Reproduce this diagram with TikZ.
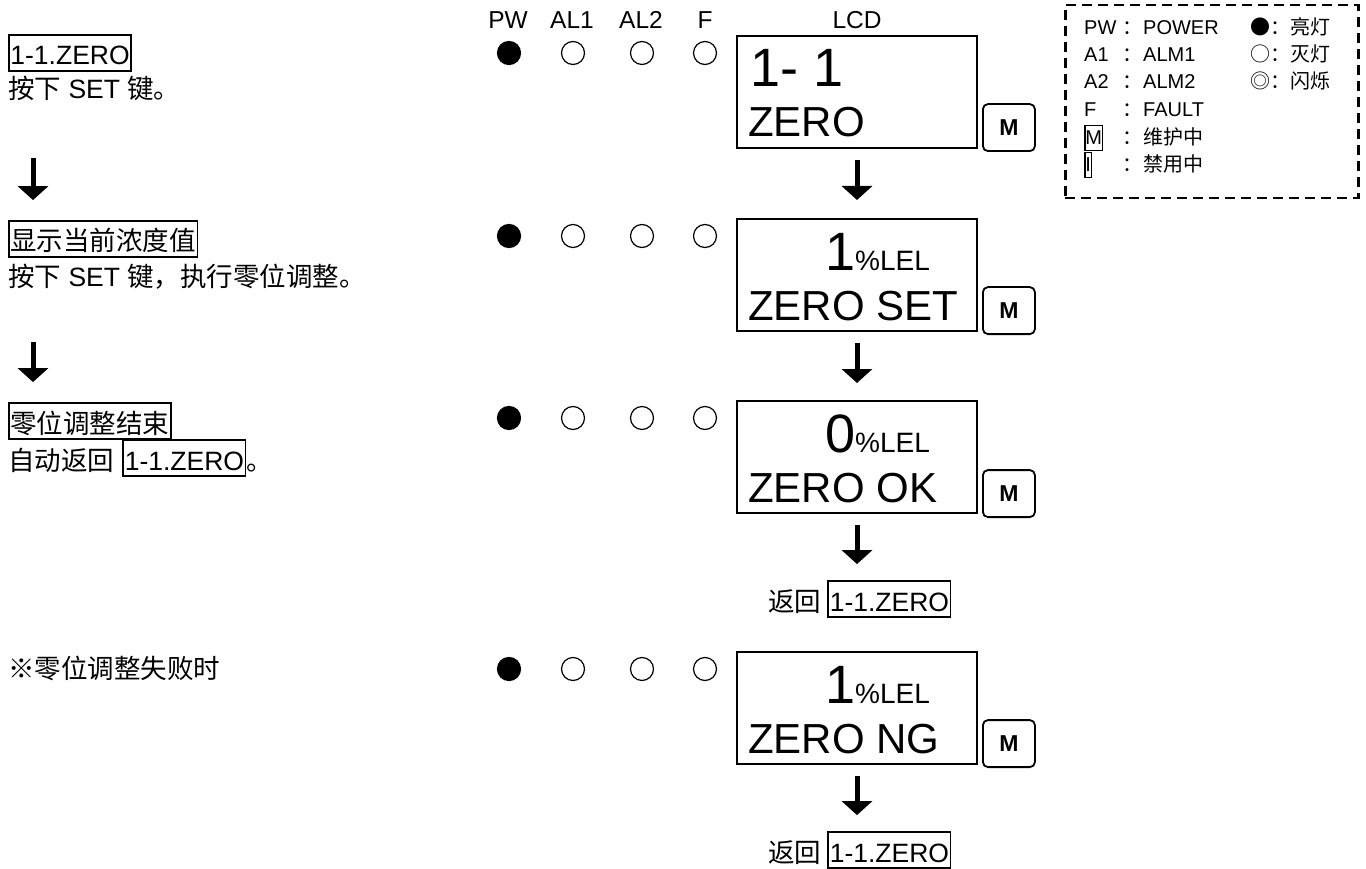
\documentclass[tikz,border=0pt]{standalone}
\usepackage{fontspec}
\setmainfont{Liberation Sans}
\newfontfamily\zh{Noto Sans CJK SC}
\usepackage{tikz}
\usetikzlibrary{arrows.meta,positioning,calc}

\tikzset{
  txt/.style={inner sep=0pt, text height=30pt, text depth=6pt, anchor=base west, font=\fontsize{26.5}{30}\selectfont},
  tag/.style={txt, draw, line width=1.8pt, inner xsep=1.5pt},
  lcdbox/.style={draw, line width=2pt, minimum width=240pt, minimum height=112pt, anchor=north west, inner sep=0pt},
  mkey/.style={draw, line width=1.8pt, rounded corners=5pt, minimum width=52pt, minimum height=47pt, inner sep=0pt, anchor=south west, font=\fontsize{23}{25}\selectfont\bfseries},
  led/.style={circle, draw, line width=1.2pt, minimum size=23pt, inner sep=0pt},
  ledon/.style={led, fill=black},
  flow/.style={line width=5pt, -{Triangle[width=30pt,length=14pt]}},
  bigline/.style={inner sep=0pt, anchor=base west, font=\fontsize{54}{58}\selectfont},
  midline/.style={inner sep=0pt, anchor=base west, font=\fontsize{42}{46}\selectfont},
  hdr/.style={inner sep=0pt, anchor=base, font=\fontsize{24.5}{26}\selectfont},
  leg/.style={inner sep=0pt, anchor=base west, font=\fontsize{20}{22}\selectfont},
  legtag/.style={leg, draw, line width=1.5pt, inner sep=0.5pt, text height=19pt, text depth=5pt},
}
\newcommand{\lel}{{\fontsize{28}{30}\selectfont\%LEL}}

\begin{document}
\begin{tikzpicture}[x=1pt, y=-1pt]
\useasboundingbox (0,0) rectangle (1366,869);

% left column
\node[tag] (l1) at (8,65) {1-1.ZERO};
\node[txt] (l2) at (8,99) {{\zh 按下} SET {\zh 键。}};
\node[tag] (l3) at (8,251) {\zh 显示当前浓度值};
\node[txt] (l4) at (8,287) {{\zh 按下} SET {\zh 键，执行零位调整。}};
\node[tag] (l5) at (8,433) {\zh 零位调整结束};
\node[txt] (l6) at (8,470) {\zh 自动返回};
\node[tag] (l6z) at ([xshift=8pt]l6.base east) {1-1.ZERO};
\node[txt] (l6e) at (l6z.base east) {\zh 。};
\node[txt] (l7) at (8,678) {\zh ※零位调整失败时};

\coordinate (ax) at (33,0);
\draw[flow, shorten <=53pt, shorten >=20pt] (l2.south -| ax) -- (l3.north -| ax);
\draw[flow, shorten <=49pt, shorten >=20pt] (l4.south -| ax) -- (l5.north -| ax);

% lamp headers
\node[hdr] (hpw) at (508,29) {PW};
\node[hdr] (hal1) at (572,29) {AL1};
\node[hdr] (hal2) at (641,29) {AL2};
\node[hdr] (hf) at (705,29) {F};
\node[hdr] (hlcd) at (857,29) {LCD};

% lamps
\foreach \r/\y in {1/53, 2/236, 3/418, 4/669} {
  \node[ledon] (pw\r) at (509,\y) {};
  \node[led] (al1\r) at (573,\y) {};
  \node[led] (al2\r) at (642,\y) {};
  \node[led] (f\r) at (705,\y) {};
}

% LCD panels
\node[lcdbox] (lcd1) at (736,35) {};
\node[bigline] (lcd1a) at (750,87) {1- 1};
\node[midline] (lcd1b) at (748,137) {ZERO};
\node[mkey] (m1) at ([shift={(4pt,-3pt)}]lcd1.south east) {M};

\node[lcdbox] (lcd2) at (736,218) {};
\node[bigline] (lcd2a) at (825,270) {1\lel};
\node[midline] (lcd2b) at (748,320) {ZERO SET};
\node[mkey] (m2) at ([shift={(4pt,-3pt)}]lcd2.south east) {M};

\node[lcdbox] (lcd3) at (736,400) {};
\node[bigline] (lcd3a) at (825,452) {0\lel};
\node[midline] (lcd3b) at (748,502) {ZERO OK};
\node[mkey] (m3) at ([shift={(4pt,-4pt)}]lcd3.south east) {M};

\node[txt] (r3) at (768,611) {\zh 返回};
\node[tag] (r3z) at ([xshift=6pt]r3.base east) {1-1.ZERO};

\node[lcdbox] (lcd4) at (736,651) {};
\node[bigline] (lcd4a) at (825,703) {1\lel};
\node[midline] (lcd4b) at (748,753) {ZERO NG};
\node[mkey] (m4) at ([shift={(4pt,-3pt)}]lcd4.south east) {M};

\node[txt] (r4) at (768,862) {\zh 返回};
\node[tag] (r4z) at ([xshift=6pt]r4.base east) {1-1.ZERO};

\draw[flow, shorten <=11pt, shorten >=18pt] (lcd1) -- (lcd2);
\draw[flow, shorten <=11pt, shorten >=17pt] (lcd2) -- (lcd3);
\draw[flow, shorten <=11pt, shorten >=16pt] (lcd3.south) -- (lcd3.south |- r3z.north);
\draw[flow, shorten <=11pt, shorten >=16pt] (lcd4.south) -- (lcd4.south |- r4z.north);

% legend
\node[draw, dash pattern=on 10pt off 6pt, line width=2.5pt, minimum width=293pt, minimum height=193pt, anchor=north west, inner sep=0pt] (legend) at (1064,4) {};
\node[leg] (kpw) at (1084,35) {PW};
\node[leg] (ka1) at (1084,62) {A1};
\node[leg] (ka2) at (1084,89) {A2};
\node[leg] (kf) at (1084,117) {F};
\node[legtag] (km) at (1084,145) {M};
\node[legtag] (ki) at (1084,172) {I};
\foreach \y in {35,62,89,117,145,172} {
  \node[leg] at (1122,\y) {\zh ：};
}
\node[leg] (vpw) at (1143,35) {POWER};
\node[leg] (va1) at (1143,62) {ALM1};
\node[leg] (va2) at (1143,89) {ALM2};
\node[leg] (vf) at (1143,117) {FAULT};
\node[leg] (vm) at (1143,145) {\zh 维护中};
\node[leg] (vi) at (1143,172) {\zh 禁用中};
\node[leg] (son) at (1250,35) {\zh ●：亮灯};
\node[leg] (soff) at (1250,62) {\zh ○：灭灯};
\node[leg] (sblink) at (1250,89) {\zh ◎：闪烁};
\end{tikzpicture}
\end{document}
